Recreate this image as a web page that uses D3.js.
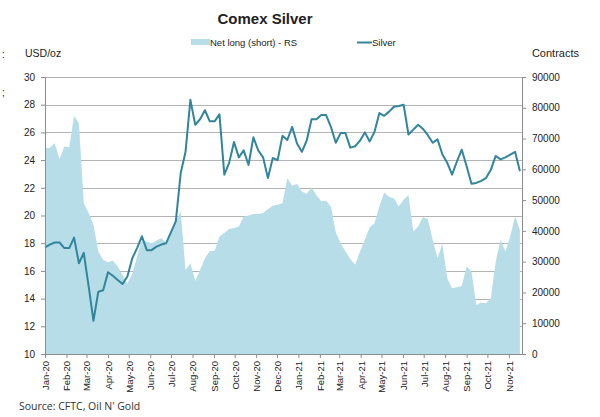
<!DOCTYPE html>
<html>
<head>
<meta charset="utf-8">
<title>Comex Silver</title>
<script src="https://cdn.jsdelivr.net/npm/d3@7"></script>
<style>
	body { margin: 0; background: #fff; }
	text { font-family: "Liberation Sans", Arial, sans-serif; fill: #222; }
	.grid line { stroke: #b3b3b3; stroke-width: 1; }
	.axis path, .axis line { stroke: #8c8c8c; }
	.axis text { font-size: 10px; fill: #222; }
	.xaxis text { font-size: 9.5px; }
	.src { font-family: "Open Sans", sans-serif; font-size: 10.5px; fill: #333; }
</style>
</head>
<body>
<script>
// weekly COT readings, first week of Jan 2020 onwards
var firstWeek = "2020-01-01";

// Silver price, USD/oz (left scale)
var silver = [17.7, 17.9, 18.05, 18.05, 17.65, 17.65, 18.4, 16.55, 17.3, 14.9,
	12.4, 14.5, 14.6, 15.9, 15.65, 15.35, 15.05, 15.6, 16.9, 17.65,
	18.5, 17.5, 17.5, 17.75, 17.9, 18.0, 18.8, 19.6, 23.05, 24.6,
	28.35, 26.55, 26.95, 27.6, 26.8, 26.8, 27.3, 22.95, 23.8, 25.3,
	24.2, 24.7, 23.65, 25.65, 24.7, 24.2, 22.7, 24.15, 24.0, 25.75,
	25.45, 26.4, 25.2, 24.6, 25.4, 26.95, 26.95, 27.25, 27.25, 26.4,
	25.25, 25.95, 25.95, 24.9, 25.0, 25.4, 26.0, 25.35, 26.05, 27.4,
	27.2, 27.5, 27.85, 27.9, 28.0, 25.85, 26.2, 26.55, 26.25, 25.8,
	25.25, 25.5, 24.4, 23.8, 22.95, 23.9, 24.75, 23.55, 22.3, 22.35,
	22.5, 22.7, 23.3, 24.3, 24.05, 24.2, 24.4, 24.6, 23.2];

// Net long (short) contracts (right scale)
var netLong = [66900, 66900, 68500, 63300, 67400, 67200, 77400, 75000, 49000, 45800,
	42000, 33300, 30600, 29800, 30400, 28400, 25700, 23000, 26000, 31700,
	37100, 36500, 36000, 36900, 37600, 36200, 39300, 43000, 46300, 27300,
	29500, 23700, 27300, 31100, 33500, 33500, 38200, 39300, 40600, 40900,
	41400, 44700, 45000, 45500, 45500, 45800, 47000, 48200, 48500, 49000,
	57100, 54700, 55300, 52800, 52000, 54100, 51700, 49600, 49800, 47900,
	39500, 36000, 33300, 30900, 29000, 33300, 37100, 41200, 42500, 47900,
	52500, 51000, 50600, 47900, 50100, 51700, 39800, 41400, 44400, 43800,
	37100, 31100, 35800, 24600, 21400, 21700, 22100, 28400, 26800, 15900,
	16700, 16500, 18100, 30000, 37100, 33300, 38200, 44700, 40300];

var leftTicks = [10, 12, 14, 16, 18, 20, 22, 24, 26, 28, 30];
var rightTicks = [0, 10000, 20000, 30000, 40000, 50000, 60000, 70000, 80000, 90000];

var width = 600, height = 417;
var margin = {top: 77, right: 78, bottom: 63, left: 45};

var parse = d3.timeParse("%Y-%m-%d");
var dates = silver.map(function(d, i) { return d3.timeWeek.offset(parse(firstWeek), i); });

var svg = d3.select("body").append("svg")
	.attr("width", width)
	.attr("height", height);

var x = d3.scaleTime()
	.domain([parse(firstWeek), d3.timeDay.offset(dates[dates.length - 1], 3)])
	.range([margin.left, width - margin.right]);
var yL = d3.scaleLinear().domain([10, 30]).range([height - margin.bottom, margin.top]);
var yR = d3.scaleLinear().domain([0, 90000]).range([height - margin.bottom, margin.top]);

// gridlines
svg.append("g").attr("class", "grid")
	.selectAll("line")
	.data(leftTicks.slice(1))
	.enter().append("line")
	.attr("x1", margin.left).attr("x2", width - margin.right)
	.attr("y1", function(d) { return Math.round(yL(d)) + 0.5; })
	.attr("y2", function(d) { return Math.round(yL(d)) + 0.5; });

// net long area
var area = d3.area()
	.x(function(d, i) { return x(dates[i]); })
	.y0(yR(0))
	.y1(function(d) { return yR(d); });
svg.append("path")
	.datum(netLong)
	.attr("d", area)
	.attr("fill", "#b7dde8");

// silver line
var line = d3.line()
	.x(function(d, i) { return x(dates[i]); })
	.y(function(d) { return yL(d); });
svg.append("path")
	.datum(silver)
	.attr("d", line)
	.attr("fill", "none")
	.attr("stroke", "#31859c")
	.attr("stroke-width", 2)
	.attr("stroke-linejoin", "round");

// axes
svg.append("g").attr("class", "axis")
	.attr("transform", "translate(" + margin.left + ",0)")
	.call(d3.axisLeft(yL).tickValues(leftTicks).tickSize(4).tickPadding(6).tickSizeOuter(0));

svg.append("g").attr("class", "axis")
	.attr("transform", "translate(" + (width - margin.right) + ",0)")
	.call(d3.axisRight(yR).tickValues(rightTicks).tickSize(4).tickPadding(6).tickSizeOuter(0)
		.tickFormat(d3.format("d")));

var xAxis = svg.append("g").attr("class", "axis xaxis")
	.attr("transform", "translate(0," + (height - margin.bottom) + ")")
	.call(d3.axisBottom(x).ticks(d3.timeMonth.every(1)).tickSize(4).tickSizeOuter(0)
		.tickFormat(d3.timeFormat("%b-%y")));
xAxis.selectAll("text")
	.attr("transform", "rotate(-90)")
	.attr("text-anchor", "end")
	.attr("x", -7)
	.attr("y", 0)
	.attr("dy", "0.35em");

// titles
svg.append("text")
	.attr("x", 265).attr("y", 24)
	.attr("text-anchor", "middle")
	.style("font-size", "15px").style("font-weight", "bold")
	.text("Comex Silver");

svg.append("text").attr("x", 25).attr("y", 57).style("font-size", "10.5px").text("USD/oz");
svg.append("text").attr("x", 579).attr("y", 57).attr("text-anchor", "end").style("font-size", "11px").text("Contracts");

// legend
svg.append("rect").attr("x", 191).attr("y", 39).attr("width", 19).attr("height", 6).attr("fill", "#b7dde8");
svg.append("text").attr("x", 210).attr("y", 46).style("font-size", "9.5px").text("Net long (short) - RS");
svg.append("line").attr("x1", 357).attr("x2", 372).attr("y1", 42.5).attr("y2", 42.5)
	.attr("stroke", "#31859c").attr("stroke-width", 2);
svg.append("text").attr("x", 372).attr("y", 46).style("font-size", "9.5px").text("Silver");

// stray marks from the cropped source
svg.append("text").attr("x", 2).attr("y", 58).style("font-size", "10px").text(":");
svg.append("text").attr("x", 2).attr("y", 96).style("font-size", "10px").text(";");

svg.append("text").attr("class", "src").attr("x", 19).attr("y", 410).text("Source: CFTC, Oil N' Gold");
</script>
</body>
</html>
